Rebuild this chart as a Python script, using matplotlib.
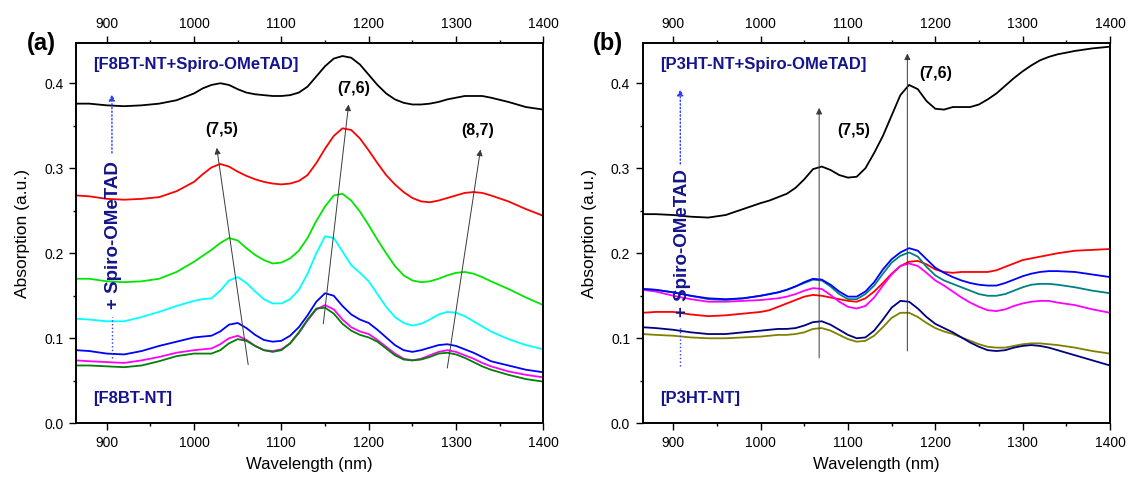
import matplotlib
matplotlib.use("Agg")
import matplotlib.pyplot as plt
import numpy as np

plt.rcParams['font.family'] = ['Liberation Sans', 'DejaVu Sans']

# wavelength grid (nm) shared by all spectra
wl = [865, 880, 900, 920, 940, 960, 980, 1000, 1010, 1020, 1030, 1040, 1050,
      1060, 1070, 1080, 1090, 1100, 1110, 1120, 1130, 1140, 1150, 1160, 1170,
      1180, 1190, 1200, 1210, 1220, 1230, 1240, 1250, 1260, 1270, 1280, 1290,
      1300, 1310, 1320, 1330, 1340, 1360, 1380, 1400]

# --- (a) F8BT-NT with increasing Spiro-OMeTAD ---
a_black = [.376, .376, .374, .373, .374, .376, .380, .388, .394, .398, .400, .398, .393,
           .389, .387, .386, .385, .385, .386, .389, .396, .408, .420, .429, .432,
           .430, .422, .410, .398, .388, .381, .377, .375, .375, .376, .378, .381,
           .383, .385, .385, .385, .383, .378, .372, .369]
a_red = [.268, .267, .264, .263, .264, .266, .273, .284, .293, .301, .305, .302, .296,
         .291, .287, .284, .282, .281, .282, .285, .292, .306, .323, .338, .347,
         .345, .335, .321, .306, .292, .281, .272, .265, .261, .260, .262, .265,
         .268, .271, .272, .271, .268, .261, .252, .244]
a_green = [.170, .170, .167, .166, .167, .170, .178, .190, .197, .204, .212, .218, .215,
           .206, .198, .192, .188, .189, .194, .203, .218, .238, .255, .268, .270,
           .262, .249, .233, .216, .200, .185, .174, .168, .166, .167, .170, .174,
           .177, .178, .176, .172, .167, .158, .148, .139]
a_cyan = [.123, .122, .120, .120, .125, .131, .138, .144, .146, .147, .156, .168, .172,
          .165, .155, .146, .141, .141, .146, .157, .176, .200, .220, .218, .202,
          .186, .177, .167, .152, .137, .125, .118, .115, .117, .122, .128, .131,
          .130, .126, .120, .114, .108, .099, .092, .087]
a_blue = [.086, .085, .082, .081, .085, .091, .096, .101, .102, .103, .108, .116, .118,
          .112, .104, .098, .096, .097, .103, .113, .127, .143, .153, .150, .138,
          .128, .122, .118, .110, .101, .092, .086, .084, .086, .089, .092, .093,
          .091, .087, .083, .078, .073, .068, .063, .060]
a_magenta = [.074, .073, .072, .071, .074, .078, .083, .086, .087, .088, .093, .100, .103,
             .098, .091, .086, .085, .087, .094, .106, .121, .134, .139, .134, .122,
             .113, .108, .105, .098, .090, .082, .076, .074, .076, .080, .084, .086,
             .084, .080, .076, .071, .067, .061, .057, .054]
a_dkgreen = [.068, .068, .067, .066, .068, .073, .079, .082, .082, .082, .086, .094, .099,
             .097, .091, .086, .084, .086, .094, .107, .122, .135, .136, .129, .117,
             .109, .104, .101, .096, .088, .080, .075, .074, .075, .078, .082, .083,
             .081, .077, .072, .067, .063, .057, .052, .049]

# --- (b) P3HT-NT with increasing Spiro-OMeTAD ---
b_black = [.246, .246, .245, .243, .242, .245, .252, .259, .262, .266, .270, .277, .287,
           .299, .302, .298, .292, .289, .290, .300, .318, .338, .362, .386, .398,
           .393, .379, .370, .369, .372, .372, .372, .375, .381, .388, .397, .406,
           .414, .421, .427, .431, .434, .438, .441, .443]
b_blue = [.158, .157, .154, .150, .147, .146, .147, .150, .152, .154, .157, .161, .166,
          .170, .169, .163, .155, .149, .149, .155, .166, .181, .193, .201, .206,
          .203, .193, .183, .177, .172, .168, .165, .163, .162, .162, .165, .169,
          .173, .176, .178, .179, .179, .178, .175, .172]
b_teal = [.158, .157, .154, .150, .146, .145, .147, .150, .152, .154, .157, .161, .165,
          .169, .168, .161, .152, .146, .146, .152, .162, .176, .189, .197, .201,
          .196, .184, .174, .168, .164, .160, .156, .152, .150, .150, .152, .156,
          .160, .163, .164, .164, .163, .160, .156, .153]
b_magenta = [.157, .155, .150, .146, .143, .143, .144, .145, .146, .147, .149, .152, .156,
             .159, .158, .151, .143, .137, .135, .138, .148, .162, .175, .185, .188,
             .185, .177, .168, .162, .155, .148, .142, .137, .133, .132, .134, .138,
             .141, .143, .144, .144, .142, .139, .134, .130]
b_red = [.130, .131, .131, .128, .126, .127, .129, .131, .133, .137, .141, .145, .149,
         .151, .150, .148, .146, .144, .143, .147, .155, .165, .176, .185, .190,
         .191, .187, .181, .178, .177, .178, .178, .178, .178, .180, .184, .188,
         .192, .194, .196, .198, .200, .203, .204, .205]
b_navy = [.113, .112, .110, .107, .105, .105, .107, .109, .110, .111, .111, .112, .115,
          .119, .120, .116, .110, .104, .100, .101, .109, .122, .136, .144, .143,
          .135, .125, .117, .112, .107, .101, .095, .090, .086, .085, .086, .089,
          .091, .092, .091, .089, .086, .080, .074, .068]
b_olive = [.105, .104, .103, .101, .100, .100, .101, .102, .103, .104, .104, .105, .107,
           .111, .112, .109, .104, .099, .096, .097, .103, .113, .124, .130, .130,
           .125, .118, .112, .108, .105, .101, .097, .093, .090, .089, .089, .091,
           .093, .094, .094, .093, .092, .089, .085, .082]

series_a = [(a_black, 'black'), (a_red, '#ff0000'), (a_green, '#00e600'),
            (a_cyan, '#00ffff'), (a_blue, '#0000ff'), (a_magenta, '#ff00ff'),
            (a_dkgreen, '#008000')]
series_b = [(b_black, 'black'), (b_red, '#ff0000'), (b_olive, '#808000'),
            (b_navy, '#000080'), (b_magenta, '#ff00ff'), (b_teal, '#008080'),
            (b_blue, '#0000ff')]

# chirality markers: (label, arrow tail, arrow head, label position)
chir_a = [('(7,5)', (1062, 0.069), (1026, 0.324), (1032, 0.346)),
          ('(7,6)', (1148, 0.117), (1177, 0.375), (1183, 0.394)),
          ('(8,7)', (1290, 0.065), (1328, 0.322), (1325, 0.344))]
chir_b = [('(7,5)', (1067, 0.077), (1067, 0.371), (1106, 0.344)),
          ('(7,6)', (1168, 0.085), (1168, 0.435), (1201, 0.411))]

NAVY = '#14148c'
ARROW_BLUE = '#2b3cff'


def draw_panel(ax, series, chir, tag, top_label, bottom_label, spiro_x,
               spiro_lo, spiro_hi, text_lo, text_hi, text_y):
    for y, c in series:
        ax.plot(wl, y, color=c, lw=1.3, zorder=2, solid_joinstyle='round')

    for lab, tail, head, pos in chir:
        ax.annotate('', xy=head, xytext=tail,
                    arrowprops=dict(arrowstyle='-|>', color='#3a3a3a', lw=0.7,
                                    mutation_scale=9, shrinkA=0, shrinkB=0),
                    zorder=3)
        ax.text(pos[0], pos[1], lab, fontsize=11.5, fontweight='bold',
                ha='center', va='center', zorder=4)

    # dotted guide for increasing Spiro-OMeTAD, broken by its label
    ax.plot([spiro_x, spiro_x], [spiro_lo, text_lo], ls=':', color=ARROW_BLUE,
            lw=1.0, zorder=3)
    ax.annotate('', xy=(spiro_x, spiro_hi), xytext=(spiro_x, text_hi),
                arrowprops=dict(arrowstyle='-|>', color=ARROW_BLUE, lw=1.0,
                                ls=':', mutation_scale=9, shrinkA=0, shrinkB=0),
                zorder=3)
    ax.text(spiro_x + 2, text_y, '+ Spiro-OMeTAD', rotation=90, fontsize=13.5,
            fontweight='bold', color=NAVY, ha='center', va='center', zorder=5)

    ax.text(0.037, 0.945, top_label, transform=ax.transAxes, fontsize=12,
            fontweight='bold', color=NAVY, ha='left', va='center')
    ax.text(0.037, 0.065, bottom_label, transform=ax.transAxes, fontsize=12,
            fontweight='bold', color=NAVY, ha='left', va='center')

    ax.set_xlim(865, 1400)
    ax.set_ylim(0, 0.447)
    ax.set_xticks([900, 1000, 1100, 1200, 1300, 1400])
    ax.set_xticks(np.arange(950, 1400, 100), minor=True)
    ax.set_yticks([0.0, 0.1, 0.2, 0.3, 0.4])
    ax.set_yticks([0.05, 0.15, 0.25, 0.35], minor=True)
    ax.yaxis.set_major_formatter(matplotlib.ticker.FormatStrFormatter('%.1f'))
    ax.tick_params(which='both', direction='out', labelsize=10, width=1.0,
                   right=False, top=False, pad=4)
    ax.tick_params(which='major', length=5)
    ax.tick_params(which='minor', length=2.5)
    for sp in ax.spines.values():
        sp.set_linewidth(1.2)

    top = ax.twiny()
    top.set_xlim(ax.get_xlim())
    top.set_xticks([900, 1000, 1100, 1200, 1300, 1400])
    top.set_xticks(np.arange(950, 1400, 100), minor=True)
    top.tick_params(which='both', direction='out', labelsize=10, width=1.0, pad=4)
    top.tick_params(which='major', length=5)
    top.tick_params(which='minor', length=2.5)
    for sp in top.spines.values():
        sp.set_linewidth(1.2)

    ax.set_xlabel('Wavelength (nm)', fontsize=12, labelpad=5)
    ax.set_ylabel('Absorption (a.u.)', fontsize=12.5, labelpad=10)
    ax.text(-0.075, 1.0, tag, transform=ax.transAxes, fontsize=17,
            fontweight='bold', ha='center', va='center')


fig = plt.figure(figsize=(11.28, 4.82), dpi=100)
ax_a = fig.add_axes([0.0675, 0.1218, 0.4142, 0.7884])
ax_b = fig.add_axes([0.5698, 0.1218, 0.4142, 0.7884])

draw_panel(ax_a, series_a, chir_a, '(a)', '[F8BT-NT+Spiro-OMeTAD]', '[F8BT-NT]',
           906, 0.077, 0.387, 0.125, 0.318, 0.222)
draw_panel(ax_b, series_b, chir_b, '(b)', '[P3HT-NT+Spiro-OMeTAD]', '[P3HT-NT]',
           908, 0.067, 0.393, 0.115, 0.305, 0.212)

fig.savefig('out.png', dpi=100, facecolor='white')
